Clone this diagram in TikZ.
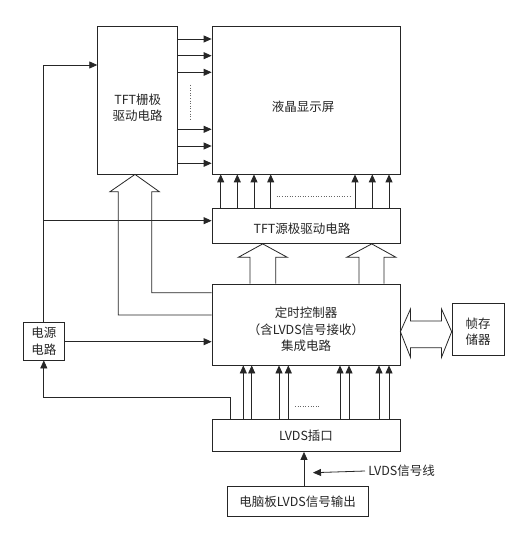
\documentclass[tikz,border=0pt]{standalone}
\usepackage{fontspec}
\setmainfont{Noto Sans CJK SC}
\usetikzlibrary{arrows.meta}
\begin{document}
\begin{tikzpicture}[x=1pt,y=-1pt,
  line width=0.8pt,
  >={Triangle[length=8pt,width=7pt]},
  box/.style={draw=black!85, line width=0.8pt, rectangle, inner sep=0pt},
  txt/.style={align=center, font=\fontsize{12.5}{16.7}\selectfont, text=black!85, inner sep=0pt},
  sig/.style={->, draw=black!85},
  hollow/.style={draw=black!85, line width=0.8pt},
  dots/.style={dotted, line width=0.6pt, draw=black!60}
]
\fill[white] (0,0) rectangle (526,537);
\useasboundingbox (0,0) rectangle (526,537);

% boxes
\node[box, minimum width=80pt, minimum height=147.3pt,
  label={[txt, yshift=-7.3pt]center:TFT栅极\\驱动电路}] (gate) at (137.7,100.35) {};
\node[box, minimum width=188pt, minimum height=147.3pt,
  label={[txt, yshift=-6.3pt, xshift=-3pt]center:液晶显示屏}] (lcd) at (306,100.35) {};
\node[box, minimum width=188pt, minimum height=35.5pt,
  label={[txt, yshift=-2.5pt, xshift=-4pt]center:TFT源极驱动电路}] (src) at (306,225.75) {};
\node[box, minimum width=188pt, minimum height=81pt,
  label={[txt, yshift=-5pt]center:定时控制器\\（含LVDS信号接收）\\集成电路}] (ctrl) at (306,324.5) {};
\node[box, minimum width=52.3pt, minimum height=52.4pt,
  label={[txt, yshift=-2.3pt]center:帧存\\储器}] (mem) at (478.2,329.5) {};
\node[box, minimum width=41pt, minimum height=37.3pt,
  label={[txt]center:电源\\电路}] (power) at (43.8,341.35) {};
\node[box, minimum width=188pt, minimum height=32.2pt,
  label={[txt]center:LVDS插口}] (port) at (306,435.4) {};
\node[box, minimum width=140.7pt, minimum height=29.3pt,
  label={[txt]center:电脑板LVDS信号输出}] (pc) at (297.65,501.35) {};

% gate driver -> LCD
\foreach \yy in {39,55.7,72.3,129.3,146,163.3}
  \draw[sig] (gate.east |- 0,\yy) -- (lcd.west |- 0,\yy);
\draw[dots] (190,85) -- (190,120);

% source driver -> LCD
\foreach \xx in {220.7,237.3,254,270.7,355,372.3,389}
  \draw[sig] (src.north -| \xx,0) -- (lcd.south -| \xx,0);
\draw[dots] (276.7,196.7) -- (351.7,196.7);

% controller -> source driver (hollow arrows)
\draw[hollow] (ctrl.north -| 250,0) -- (250,257.3) -- (238.3,257.3) -- (src.south -| 262.7,0)
  -- (287.3,257.3) -- (275.7,257.3) -- (ctrl.north -| 275.7,0);
\draw[hollow] (ctrl.north -| 359,0) -- (359,257.3) -- (346.7,257.3) -- (src.south -| 371.7,0)
  -- (396,257.3) -- (384,257.3) -- (ctrl.north -| 384,0);

% controller -> gate driver (hollow arrow)
\draw[hollow] (ctrl.west |- 0,315) -- (118.3,315) -- (118.3,191.7) -- (110,191.7) -- (gate.south -| 135,0)
  -- (159.3,191.7) -- (151.7,191.7) -- (151.7,292.7) -- (ctrl.west |- 0,292.7);

% controller <-> frame memory
\draw[hollow] (ctrl.east |- 0,331.7) -- (410.5,309) -- (410.5,321) -- (441.5,321) -- (441.5,309)
  -- (mem.west |- 0,331.7) -- (441.5,357.3) -- (441.5,347.7) -- (410.5,347.7) -- (410.5,357.3) -- cycle;

% power lines
\draw[sig] (power.north) -- (power.north |- 0,65) -- (gate.west |- 0,65);
\draw[sig] (power.north |- 0,220.7) -- (src.west |- 0,220.7);
\draw[sig] (power.east |- 0,341.7) -- (ctrl.west |- 0,341.7);
\draw[sig] (port.north -| 230.7,0) -- (230.7,397.3) -- (power.south |- 0,397.3) -- (power.south);

% port -> controller
\foreach \xx in {243.3,251.7,279,288.3,340,349,379,389}
  \draw[sig] (port.north -| \xx,0) -- (ctrl.south -| \xx,0);
\draw[dots] (295,406.7) -- (320,406.7);

% pc -> port
\draw[sig] (pc.north -| 304,0) -- (port.south -| 304,0);

% LVDS signal line label
\node[txt, anchor=west] (lbl) at (368,471) {LVDS信号线};
\coordinate (lbltip) at (313,472.7);
\draw[sig] (lbl.west) ++(-3,0) -- (lbltip);
\end{tikzpicture}
\end{document}
